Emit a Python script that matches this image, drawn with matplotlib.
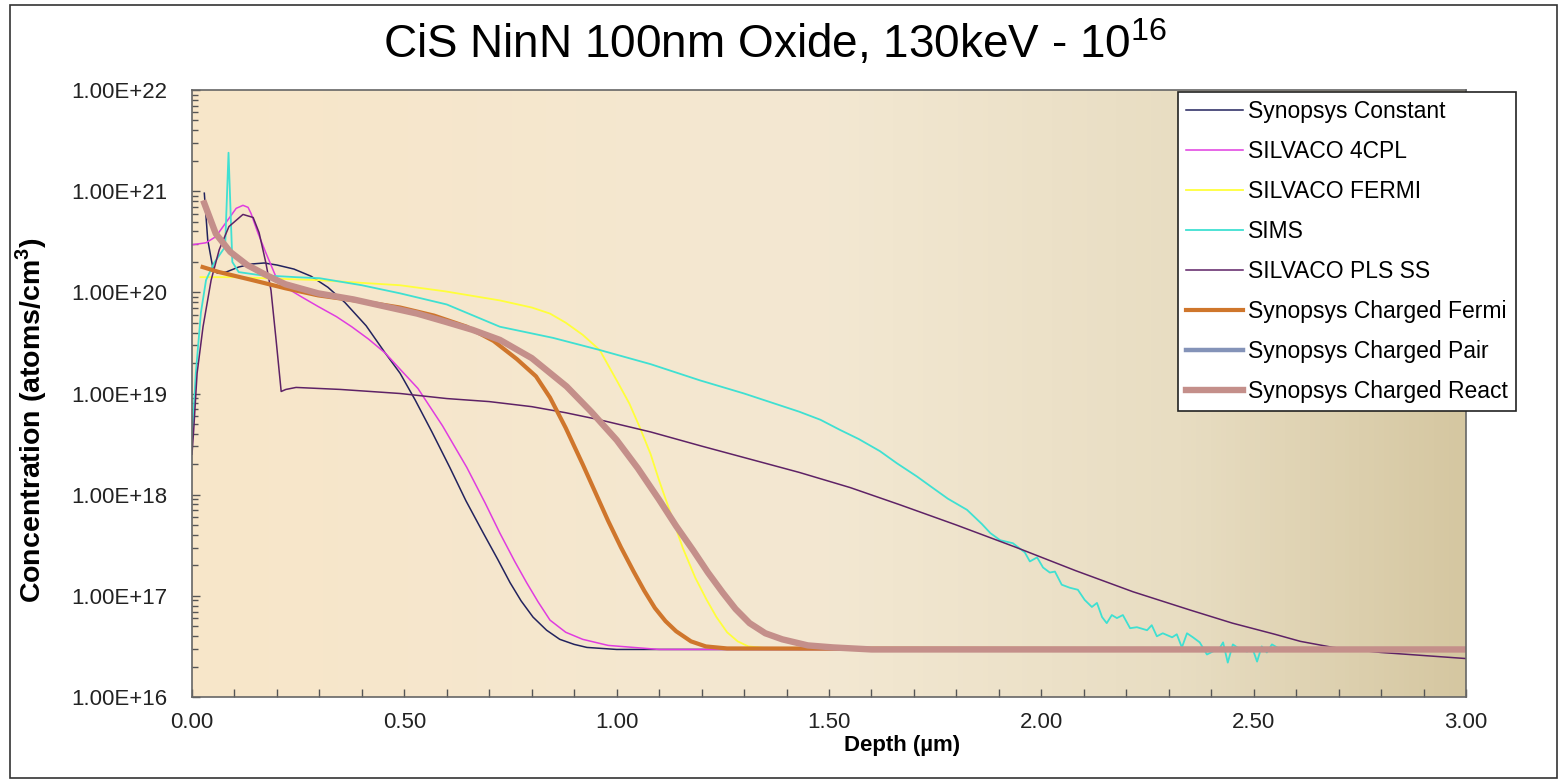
import numpy as np
import matplotlib
matplotlib.use('Agg')
import matplotlib.pyplot as plt
from matplotlib.colors import LinearSegmentedColormap
from matplotlib.patches import Rectangle
from matplotlib.ticker import FixedLocator, MultipleLocator, FuncFormatter, NullFormatter

plt.rcParams['font.family'] = ['Liberation Sans', 'DejaVu Sans']
plt.rcParams['mathtext.fontset'] = 'custom'
plt.rcParams['mathtext.rm'] = 'Liberation Sans'
plt.rcParams['mathtext.bf'] = 'Liberation Sans:bold'

# depth in um, concentration as log10(atoms/cm3)
const_depth = [0.029, 0.037, 0.05, 0.06, 0.08, 0.11, 0.14, 0.17, 0.20, 0.24, 0.28, 0.32, 0.36,
               0.41, 0.455, 0.49, 0.525, 0.565, 0.607, 0.645, 0.686, 0.72, 0.749, 0.775, 0.803,
               0.835, 0.866, 0.90, 0.93, 1.0, 3.0]
const_log = [20.98, 20.52, 20.22, 20.19, 20.20, 20.25, 20.28, 20.29, 20.27, 20.23, 20.16, 20.05, 19.90,
             19.67, 19.40, 19.20, 18.94, 18.62, 18.27, 17.94, 17.62, 17.36, 17.13, 16.95, 16.79,
             16.66, 16.57, 16.52, 16.49, 16.47, 16.47]

cpl_depth = [0.0, 0.033, 0.056, 0.08, 0.104, 0.12, 0.132, 0.139, 0.155, 0.174, 0.198, 0.22, 0.26,
             0.297, 0.34, 0.376, 0.415, 0.455, 0.49, 0.532, 0.59, 0.647, 0.69, 0.725, 0.76, 0.788,
             0.815, 0.843, 0.88, 0.92, 0.98, 1.04, 1.1, 3.0]
cpl_log = [20.47, 20.49, 20.55, 20.69, 20.83, 20.86, 20.84, 20.78, 20.59, 20.39, 20.15, 20.05, 19.95,
           19.86, 19.76, 19.66, 19.54, 19.40, 19.24, 19.05, 18.68, 18.27, 17.92, 17.62, 17.34, 17.13,
           16.94, 16.76, 16.64, 16.57, 16.51, 16.49, 16.47, 16.47]

fermi_depth = [0.02, 0.10, 0.30, 0.49, 0.596, 0.725, 0.80, 0.843, 0.88, 0.92, 0.96, 1.0, 1.03, 1.055,
               1.08, 1.10, 1.13, 1.156, 1.185, 1.212, 1.235, 1.26, 1.285, 1.31, 1.36, 3.0]
fermi_log = [20.15, 20.15, 20.12, 20.07, 20.01, 19.92, 19.85, 19.79, 19.70, 19.58, 19.43, 19.13, 18.90,
             18.66, 18.40, 18.14, 17.78, 17.47, 17.18, 16.96, 16.79, 16.64, 16.55, 16.50, 16.48, 16.47]

sims_depth = [0.0, 0.009, 0.021, 0.033, 0.052, 0.073, 0.078, 0.086, 0.095, 0.11, 0.16, 0.245, 0.30,
              0.40, 0.49, 0.60, 0.725, 0.85, 0.96, 1.08, 1.196, 1.30, 1.43, 1.48, 1.526, 1.57, 1.62,
              1.66, 1.707, 1.74, 1.78, 1.825, 1.86, 1.88,
              1.903, 1.933, 1.961, 1.973, 1.990, 2.004, 2.020, 2.032, 2.048, 2.067, 2.086, 2.102,
              2.119, 2.131, 2.143, 2.154, 2.166, 2.178, 2.192, 2.209, 2.225, 2.249, 2.260, 2.272,
              2.286, 2.308, 2.319, 2.331, 2.343, 2.357, 2.373, 2.390, 2.404, 2.421, 2.428, 2.439,
              2.451, 2.468, 2.484, 2.498, 2.508, 2.519, 2.531, 2.543, 2.555]
sims_log = [18.55, 19.20, 19.80, 20.12, 20.29, 20.42, 20.45, 21.38, 20.30, 20.20, 20.17, 20.15, 20.14,
            20.07, 19.99, 19.88, 19.66, 19.55, 19.43, 19.29, 19.13, 19.00, 18.82, 18.74, 18.64, 18.55, 18.43,
            18.31, 18.18, 18.08, 17.96, 17.85, 17.71, 17.62,
            17.55, 17.52, 17.43, 17.34, 17.38, 17.28, 17.23, 17.24, 17.11, 17.08, 17.06, 16.96,
            16.89, 16.93, 16.79, 16.73, 16.81, 16.78, 16.81, 16.68, 16.69, 16.66, 16.71, 16.60,
            16.63, 16.59, 16.62, 16.49, 16.63, 16.59, 16.54, 16.42, 16.45, 16.49, 16.54, 16.34,
            16.52, 16.47, 16.45, 16.47, 16.35, 16.50, 16.44, 16.52, 16.49]

pls_depth = [0.0, 0.004, 0.012, 0.026, 0.045, 0.064, 0.087, 0.12, 0.144, 0.158, 0.174, 0.186, 0.198,
             0.21, 0.221, 0.245, 0.35, 0.49, 0.6, 0.7, 0.8, 0.88, 0.96, 1.08, 1.2, 1.43, 1.55, 1.667,
             1.8, 1.94, 2.08, 2.216, 2.35, 2.45, 2.55, 2.61, 2.687, 2.8, 2.9, 3.0]
pls_log = [18.40, 18.64, 19.20, 19.66, 20.12, 20.42, 20.65, 20.77, 20.74, 20.59, 20.29, 20.02, 19.53,
           19.02, 19.04, 19.06, 19.04, 19.00, 18.95, 18.92, 18.87, 18.81, 18.74, 18.62, 18.48, 18.22,
           18.07, 17.90, 17.70, 17.48, 17.25, 17.04, 16.86, 16.73, 16.62, 16.55, 16.49, 16.44, 16.41, 16.38]

cfermi_depth = [0.025, 0.064, 0.143, 0.22, 0.297, 0.40, 0.49, 0.57, 0.647, 0.71, 0.765, 0.81, 0.843,
                0.88, 0.92, 0.95, 0.98, 1.01, 1.04, 1.065, 1.09, 1.115, 1.14, 1.175, 1.21, 1.26, 3.0]
cfermi_log = [20.25, 20.20, 20.12, 20.04, 19.97, 19.91, 19.85, 19.77, 19.66, 19.52, 19.34, 19.17, 18.96,
              18.66, 18.30, 18.02, 17.74, 17.48, 17.24, 17.05, 16.88, 16.75, 16.65, 16.55, 16.50, 16.48, 16.47]

react_depth = [0.029, 0.056, 0.09, 0.13, 0.175, 0.22, 0.297, 0.38, 0.455, 0.53, 0.596, 0.66, 0.725,
               0.80, 0.882, 0.94, 1.0, 1.05, 1.10, 1.14, 1.18, 1.215, 1.25, 1.28, 1.313, 1.35, 1.39,
               1.45, 1.51, 1.6, 3.0]
react_log = [20.88, 20.58, 20.40, 20.27, 20.17, 20.08, 19.99, 19.93, 19.86, 19.79, 19.71, 19.63, 19.53,
             19.35, 19.07, 18.82, 18.54, 18.26, 17.95, 17.69, 17.45, 17.23, 17.03, 16.87, 16.73, 16.63, 16.57,
             16.51, 16.49, 16.47, 16.47]

# the pair model gives the same profile as the react model
pair_depth = list(react_depth)
pair_log = list(react_log)

series = [
    ('Synopsys Constant', const_depth, const_log, '#23235e', 1.1),
    ('SILVACO 4CPL', cpl_depth, cpl_log, '#e03ce0', 1.1),
    ('SILVACO FERMI', fermi_depth, fermi_log, '#ffff3a', 1.3),
    ('SIMS', sims_depth, sims_log, '#3fe0d2', 1.3),
    ('SILVACO PLS SS', pls_depth, pls_log, '#5e2266', 1.1),
    ('Synopsys Charged Fermi', cfermi_depth, cfermi_log, '#cf762c', 3.0),
    ('Synopsys Charged Pair', pair_depth, pair_log, '#8493b8', 3.2),
    ('Synopsys Charged React', react_depth, react_log, '#c48f8a', 4.6),
]

y_ticks = [1e16, 1e17, 1e18, 1e19, 1e20, 1e21, 1e22]

fig = plt.figure(figsize=(15.6, 7.8), dpi=100)
ax = fig.add_axes([192 / 1560, 1 - 697 / 780, 1274 / 1560, 607 / 780])

# shaded plot area, peach on the left fading to tan on the right
bg = LinearSegmentedColormap.from_list('bg', [(0.0, '#f8e6c9'), (0.5, '#f3e8d2'),
                                               (0.78, '#e8ddc2'), (1.0, '#d5c7a1')])
ax.imshow(np.linspace(0, 1, 256).reshape(1, -1), cmap=bg, extent=[0, 1, 0, 1],
          transform=ax.transAxes, aspect='auto', zorder=0, interpolation='bilinear')

for name, d, lg, col, lw in series:
    ax.plot(d, 10 ** np.array(lg), color=col, lw=lw, label=name, zorder=2,
            solid_joinstyle='round')

ax.set_yscale('log')
ax.set_xlim(0, 3)
ax.set_ylim(1e16, 1e22)
ax.xaxis.set_major_locator(MultipleLocator(0.5))
ax.xaxis.set_minor_locator(MultipleLocator(0.1))
ax.xaxis.set_major_formatter(FuncFormatter(lambda v, p: '%.2f' % v))
ax.yaxis.set_major_locator(FixedLocator(y_ticks))
ax.yaxis.set_minor_locator(FixedLocator([m * t for t in y_ticks[:-1] for m in range(2, 10)]))
ax.yaxis.set_major_formatter(FuncFormatter(lambda v, p: '%.2E' % v))
ax.yaxis.set_minor_formatter(NullFormatter())
ax.tick_params(which='both', direction='in', color='#555555', width=1.0, labelsize=16,
               labelcolor='#222222')
ax.tick_params(which='major', length=6)
ax.tick_params(which='minor', length=4.5)
ax.tick_params(axis='x', which='both', length=6, pad=11)
ax.tick_params(axis='y', pad=18)
for s in ax.spines.values():
    s.set_color('#666666')
    s.set_linewidth(1.2)

ax.set_xlabel('Depth (µm)', fontsize=16, fontweight='bold')
ax.xaxis.label.set_va('center')
ax.xaxis.set_label_coords(0.557, -0.08)
ax.set_ylabel('Concentration (atoms/cm$^\\mathbf{3}$)', fontsize=20.5, fontweight='bold')
ax.yaxis.set_label_coords(-0.112, 0.456)

fig.text(0.497, 0.945, 'CiS NinN 100nm Oxide, 130keV - 10$^{16}$', fontsize=33,
         ha='center', va='center')

leg = ax.legend(loc='upper left', bbox_to_anchor=(1178 / 1560, 1 - 92 / 780),
                bbox_transform=fig.transFigure, fontsize=16.5, frameon=True, fancybox=False,
                framealpha=1, edgecolor='#222222', handlelength=2.5, handletextpad=0.2,
                labelspacing=0.74, borderpad=0.35, borderaxespad=0)
leg.get_frame().set_linewidth(1.2)

fig.add_artist(Rectangle((10 / 1560, 2 / 780), 1547 / 1560, 773 / 780, transform=fig.transFigure,
                         fill=False, edgecolor='#333333', lw=1.2))

fig.savefig('out.png', dpi=100)
